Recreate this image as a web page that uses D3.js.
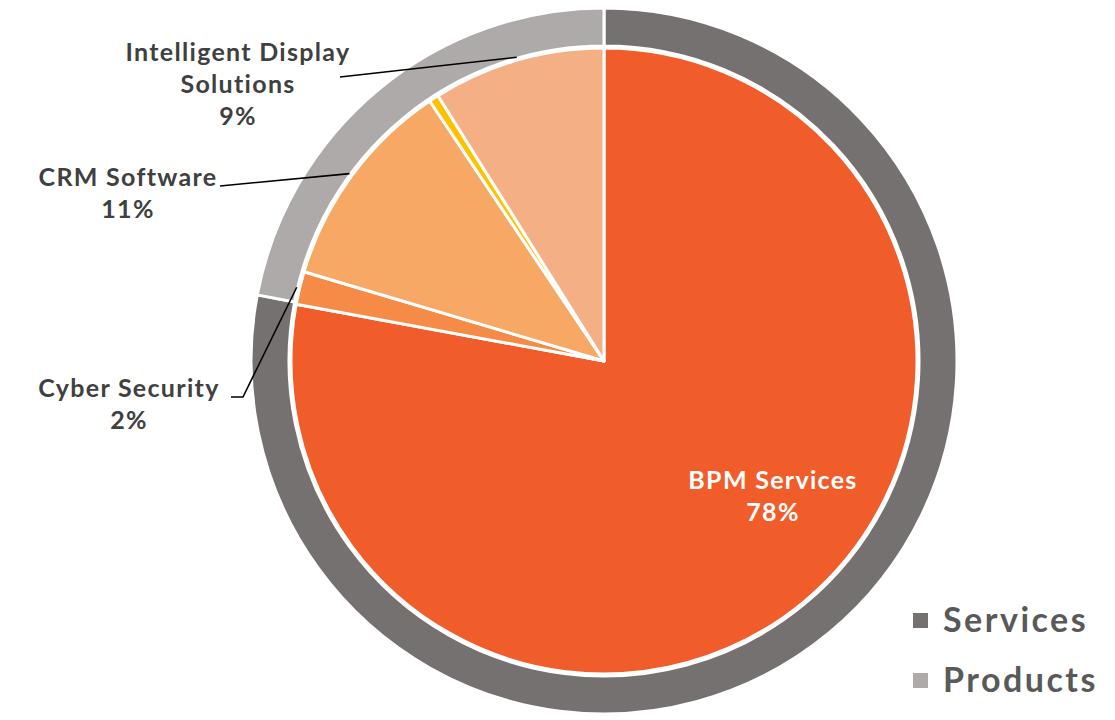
<!DOCTYPE html>
<html>
<head>
<meta charset="utf-8">
<script src="https://cdn.jsdelivr.net/npm/d3@7"></script>
<style>
  html, body { margin: 0; padding: 0; background: #fff; }
  svg { display: block; }
  text { font-family: "Lato", "Open Sans", sans-serif; font-weight: 700; }
</style>
</head>
<body>
<svg id="chart" width="1115" height="720"></svg>
<script>
// Revenue split by business line (share of total, %)
const segments = ["BPM Services", "Cyber Security", "CRM Software", "Other", "Intelligent Display Solutions"];
const segmentValues = [77.9, 1.7, 11.0, 0.5, 8.9];
const segmentColors = ["#F15D2A", "#F68A47", "#F7A865", "#FFC000", "#F4B084"];
const labelledSegments = ["BPM Services", "Cyber Security", "CRM Software", "Intelligent Display Solutions"];

// Outer ring: segment groups
const groups = ["Services", "Products"];
const groupValues = [78, 22];
const groupColors = ["#767171", "#AEAAAA"];

const svg = d3.select("#chart");
const cx = 604, cy = 361;
const rPie = 313, rRingIn = 315, rRingOut = 353;

const root = svg.append("g").attr("transform", `translate(${cx},${cy})`);

const pie = d3.pie().sort(null).value(d => d.value);

// Outer ring
const ringData = pie(groups.map((g, i) => ({ name: g, value: groupValues[i] })));
const ringArc = d3.arc().innerRadius(rRingIn).outerRadius(rRingOut);
root.selectAll("path.ring").data(ringData).enter().append("path")
  .attr("class", "ring")
  .attr("d", ringArc)
  .attr("fill", (d, i) => groupColors[i])
  .attr("stroke", "#fff")
  .attr("stroke-width", 3);

// Inner pie
const total = d3.sum(segmentValues);
const pieData = pie(segments.map((s, i) => ({ name: s, value: segmentValues[i] })));
const pieArc = d3.arc().innerRadius(0).outerRadius(rPie);
root.selectAll("path.slice").data(pieData).enter().append("path")
  .attr("class", "slice")
  .attr("d", pieArc)
  .attr("fill", (d, i) => segmentColors[i])
  .attr("stroke", "#fff")
  .attr("stroke-width", 3)
  .attr("stroke-linejoin", "round");

const pct = d => Math.round(d.data.value / total * 100) + "%";
const byName = name => pieData.find(d => d.data.name === name);
const edgePoint = (d, r) => {
  const a = (d.startAngle + d.endAngle) / 2;
  return [r * Math.sin(a), -r * Math.cos(a)];
};

// Label placement (absolute page coordinates of the label anchor)
const labelSpecs = {
  "Intelligent Display Solutions": { lines: ["Intelligent Display", "Solutions"], x: 238, y: 61, lineEnd: [340, 77] },
  "CRM Software": { lines: ["CRM Software"], x: 128, y: 186, lineEnd: [220, 186] },
  "Cyber Security": { lines: ["Cyber Security"], x: 129, y: 397, lineEnd: [231, 397], elbow: [243, 397] }
};

const labels = svg.append("g");
const lineH = 32;
labelledSegments.forEach(name => {
  const d = byName(name);
  if (name === "BPM Services") {
    const t = labels.append("text").attr("text-anchor", "middle")
      .attr("fill", "#fff").attr("font-size", 25).attr("letter-spacing", 1.3);
    t.append("tspan").attr("x", 773).attr("y", 489).text(name);
    t.append("tspan").attr("x", 773).attr("y", 521).text(pct(d));
    return;
  }
  const spec = labelSpecs[name];
  const t = labels.append("text").attr("text-anchor", "middle")
    .attr("fill", "#404040").attr("font-size", 25).attr("letter-spacing", 1.3);
  spec.lines.concat([pct(d)]).forEach((ln, i) => {
    t.append("tspan").attr("x", spec.x).attr("y", spec.y + i * lineH).text(ln);
  });
  const [px, py] = edgePoint(d, rPie + 3);
  const pts = [[cx + px, cy + py]];
  if (spec.elbow) pts.push(spec.elbow);
  pts.push(spec.lineEnd);
  labels.append("path")
    .attr("d", d3.line()(pts))
    .attr("fill", "none")
    .attr("stroke", "#000")
    .attr("stroke-width", 1.6);
});

// Legend
const legend = svg.append("g");
groups.forEach((g, i) => {
  const y0 = 620 + i * 60;
  legend.append("rect").attr("x", 913).attr("y", y0 - 7).attr("width", 15).attr("height", 15)
    .attr("fill", groupColors[i]);
  legend.append("text").attr("x", 943).attr("y", y0 + 12)
    .attr("font-size", 34).attr("letter-spacing", 2.5).attr("fill", "#595959").text(g);
});
</script>
</body>
</html>
